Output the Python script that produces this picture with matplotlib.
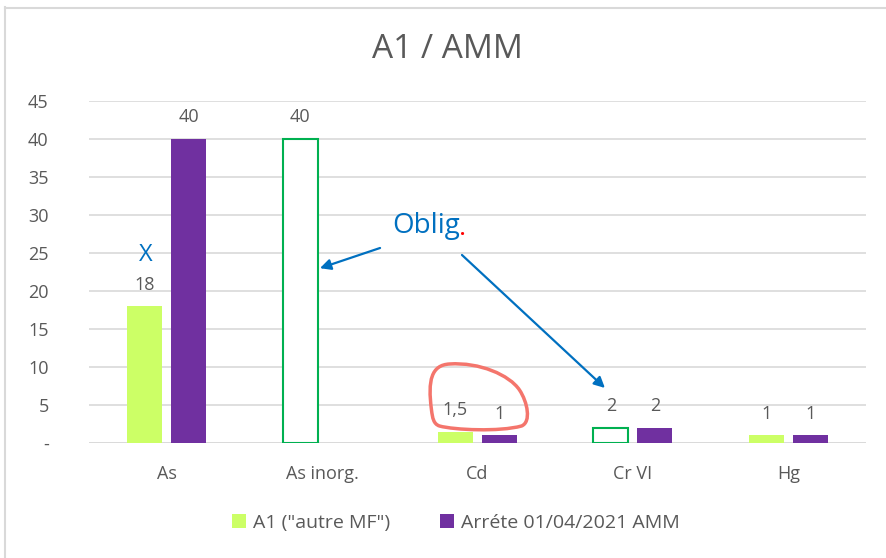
import matplotlib.pyplot as plt
import numpy as np
from matplotlib.path import Path
from matplotlib.patches import PathPatch
from matplotlib.lines import Line2D
from matplotlib import transforms

plt.rcParams['font.family'] = ['Open Sans', 'DejaVu Sans']

categories = ["As", "As inorg.", "Cd", "Cr VI", "Hg"]
a1_values = [18, 40, 1.5, 2, 1]
amm_values = [40, np.nan, 1, 2, 1]
oblig = ["As inorg.", "Cr VI"]   # A1 value is mandatory here -> outlined bar

a1_label = 'A1 ("autre MF")'
amm_label = "Arréte 01/04/2021 AMM"
title = "A1 / AMM"

GREEN = "#CCFF66"
GREEN_EDGE = "#00B050"
PURPLE = "#7030A0"
BLUE = "#0070C0"
GREY = "#595959"
GRID = "#D9D9D9"
FS = 13

fig = plt.figure(figsize=(8.87, 5.58), dpi=100)
ax = fig.add_axes([89 / 887, 1 - 443 / 558, (866 - 89) / 887, (443 - 101) / 558])

x = np.arange(len(categories))
w = 0.225
off = 0.142

is_oblig = np.array([c in oblig for c in categories])
a1 = np.array(a1_values, dtype=float)
amm = np.array(amm_values, dtype=float)

ax.bar(x[~is_oblig] - off, a1[~is_oblig], w, color=GREEN, label=a1_label, zorder=3)
ax.bar(x[is_oblig] - off, a1[is_oblig], w, facecolor="white", edgecolor=GREEN_EDGE,
       linewidth=1.5, zorder=3)
ax.bar(x + off, amm, w, color=PURPLE, label=amm_label, zorder=3)


def fmt(v):
    return ("%g" % v).replace(".", ",")


for xi, v in zip(x - off, a1):
    if not np.isnan(v):
        ax.annotate(fmt(v), (xi, v), xytext=(0, 12), textcoords="offset points",
                    ha="center", va="baseline", fontsize=FS, color=GREY)
for xi, v in zip(x + off, amm):
    if not np.isnan(v):
        ax.annotate(fmt(v), (xi, v), xytext=(0, 12), textcoords="offset points",
                    ha="center", va="baseline", fontsize=FS, color=GREY)

ax.set_xlim(-0.5, len(categories) - 0.5)
ax.set_ylim(0, 45)
ax.set_yticks(np.arange(0, 50, 5))
ax.set_yticklabels(["-"] + [str(v) for v in range(5, 50, 5)])
ax.set_xticks(x)
ax.set_xticklabels(categories)
ax.tick_params(axis="y", length=0, pad=29, labelsize=FS, labelcolor=GREY)
ax.tick_params(axis="x", length=0, pad=16, labelsize=FS, labelcolor=GREY)
ax.grid(axis="y", color=GRID, linewidth=1.2, zorder=0)
for s in ax.spines.values():
    s.set_visible(False)
ax.axhline(0, color=GRID, linewidth=1.2, zorder=1)

fig.text(447 / 887, 1 - 49 / 558, title, ha="center", va="center",
         fontsize=24, color=GREY)

# annotations
ax.text(-0.133, 24.7, "X", ha="center", va="center", fontsize=17, color=BLUE)
oblig_txt = ax.text(1.45, 28.6, "Oblig", ha="left", va="center", fontsize=20,
                    color=BLUE)
ax.annotate(".", xy=(1, 0.18), xycoords=oblig_txt, ha="left", va="baseline",
            fontsize=13, color="red", fontweight="bold")
arrow = dict(arrowstyle="-|>", color=BLUE, lw=1.6, mutation_scale=16,
             shrinkA=0, shrinkB=0)
ax.annotate("", xy=(0.986, 23.0), xytext=(1.373, 25.66), arrowprops=arrow)
ax.annotate("", xy=(2.82, 7.24), xytext=(1.90, 24.74), arrowprops=arrow)

# hand-drawn loop around the Cd labels (pixel offsets from the Cd baseline)
verts = [(-46, 33),
         (-50, 63), (-46, 78), (-28, 79),
         (2, 81), (32, 68), (42, 53),
         (50, 41), (54, 21), (44, 17),
         (22, 11), (-23, 13), (-38, 17),
         (-44, 19), (-45, 25), (-46, 33)]
codes = [Path.MOVETO] + [Path.CURVE4] * 15
loop_trans = transforms.Affine2D().scale(fig.dpi / 100) + \
    transforms.ScaledTranslation(categories.index("Cd"), 0, ax.transData)
ax.add_patch(PathPatch(Path(verts, codes), transform=loop_trans, facecolor="none",
                       edgecolor="#F4756C", linewidth=2.5, zorder=5, clip_on=False))

handles, labels = ax.get_legend_handles_labels()
fig.legend(handles, labels, loc="center", bbox_to_anchor=(456 / 887, 1 - 523 / 558),
           ncol=2, frameon=False, fontsize=14, labelcolor=GREY,
           handlelength=0.7, handleheight=0.7, handletextpad=0.35, columnspacing=2.6)

# outer chart frame (cropped)
fig.add_artist(Line2D([5.5 / 887, 5.5 / 887], [0, 1 - 7 / 558], color=GRID, lw=1.5))
fig.add_artist(Line2D([5 / 887, 1], [1 - 7.5 / 558, 1 - 7.5 / 558], color=GRID, lw=1.5))

fig.savefig("out.png", dpi=100)
